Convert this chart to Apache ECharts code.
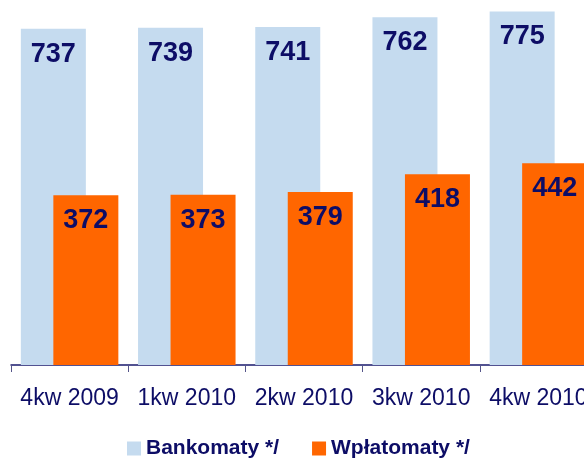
<!DOCTYPE html>
<html>
<head>
<meta charset="utf-8">
<script src="https://cdn.jsdelivr.net/npm/echarts@6/dist/echarts.min.js"></script>
<style>
	html, body { margin: 0; padding: 0; background: #fff; }
	#main { width: 584px; height: 460px; }
</style>
</head>
<body>
<div id="main"></div>
<script>
var categories = [ '4kw 2009', '1kw 2010', '2kw 2010', '3kw 2010', '4kw 2010' ];
var bankomaty = [ 737, 739, 741, 762, 775 ];
var wplatomaty = [ 372, 373, 379, 418, 442 ];

var navy = '#0d0d66';

var myChart = echarts.init(document.getElementById('main'));
var labelStyle = {
	show : true,
	position : 'insideTop',
	distance : 12,
	color : navy,
	fontFamily : 'Liberation Sans, Arial, sans-serif',
	fontWeight : 'bold',
	fontSize : 27
};
var option = {
	animation : false,
	grid : {
		left : 11,
		width : 586,
		top : 0,
		bottom : 95,
		containLabel : false,
		outerBoundsMode : 'none'
	},
	legend : {
		data : [ 'Bankomaty */', 'Wpłatomaty */' ],
		left : 127,
		top : 438,
		padding : 0,
		itemWidth : 14,
		itemHeight : 14,
		itemGap : 33,
		icon : 'rect',
		textStyle : {
			color : navy,
			fontFamily : 'Liberation Sans, Arial, sans-serif',
			fontWeight : 'bold',
			fontSize : 21
		}
	},
	xAxis : {
		type : 'category',
		data : categories,
		axisLine : { show : true, lineStyle : { color : '#1a1a6e', width : 1.5 } },
		axisTick : { show : true, length : 7, lineStyle : { color : '#55558a' } },
		axisLabel : {
			interval : 0,
			color : navy,
			fontFamily : 'Liberation Sans, Arial, sans-serif',
			fontSize : 23,
			margin : 22
		}
	},
	yAxis : {
		type : 'value',
		min : 0,
		max : 800,
		show : false,
		splitLine : { show : false }
	},
	series : [ {
		name : 'Bankomaty */',
		type : 'bar',
		data : bankomaty,
		barWidth : 65,
		barGap : '-50%',
		itemStyle : { color : '#c5dbef' },
		label : labelStyle
	}, {
		name : 'Wpłatomaty */',
		type : 'bar',
		data : wplatomaty,
		barWidth : 65,
		itemStyle : { color : '#ff6600' },
		label : labelStyle
	} ]
};
myChart.setOption(option);
</script>
</body>
</html>
